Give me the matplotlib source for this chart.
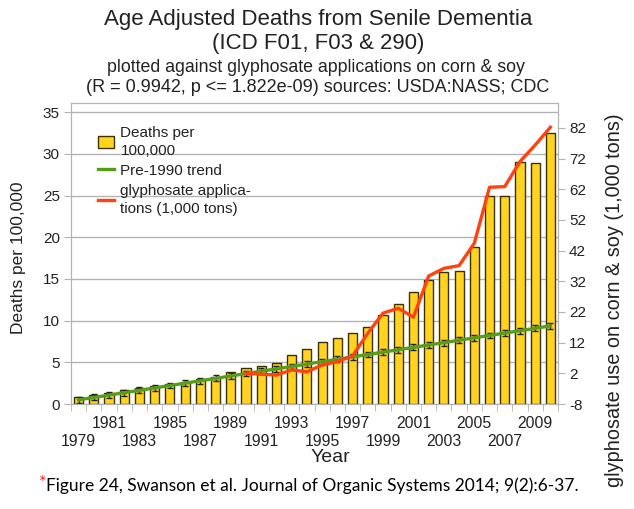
import matplotlib
matplotlib.use('Agg')
import matplotlib.pyplot as plt
import matplotlib.transforms as mtransforms
from matplotlib.patches import Patch
from matplotlib.lines import Line2D
import numpy as np

# data
years = list(range(1979, 2011))
deaths = [0.85, 1.05, 1.28, 1.62, 1.88, 2.15, 2.40, 2.68, 2.96, 3.20,
          3.84, 4.26, 4.60, 4.88, 5.88, 6.64, 7.40, 7.88, 8.55, 9.27,
          10.63, 11.95, 13.47, 14.87, 15.87, 15.99, 18.87, 24.94, 24.94, 28.98,
          28.86, 32.53]
trend = [0.50, 0.79, 1.07, 1.36, 1.64, 1.93, 2.22, 2.50, 2.79, 3.07,
         3.36, 3.65, 3.93, 4.22, 4.50, 4.79, 5.08, 5.36, 5.65, 5.93,
         6.22, 6.51, 6.79, 7.08, 7.36, 7.65, 7.94, 8.22, 8.51, 8.79,
         9.08, 9.37]
gly_years = list(range(1990, 2011))
glyphosate = [2.0, 1.7, 1.45, 3.1, 2.5, 4.7, 5.8, 7.65, 15.05, 21.6,
              23.2, 20.3, 33.7, 36.2, 37.1, 44.4, 62.65, 62.85, 71.0, 76.4,
              82.2]
left_ticks = [0, 5, 10, 15, 20, 25, 30, 35]
right_ticks = [-8, 2, 12, 22, 32, 42, 52, 62, 72, 82]
label_years = list(range(1979, 2010, 2))

plt.rcParams['font.family'] = ['Liberation Sans', 'DejaVu Sans']
plt.rcParams['axes.unicode_minus'] = False

BAR = '#ffd320'
GREEN = '#579d1c'
RED = '#ff420e'
GRID = '#b3b3b3'
TXT = '#222222'

fig = plt.figure(figsize=(6.34, 5.09), dpi=100)
ax = fig.add_axes([71 / 634, 1 - 404 / 509, (558 - 71) / 634, (404 - 103) / 509])

ax.bar(years, deaths, width=0.6, color=BAR, edgecolor='#3a3000', linewidth=1, zorder=2)
ax.errorbar(years, trend, yerr=0.35, color=GREEN, lw=2.4, ecolor='#222222',
            elinewidth=1, capsize=2.2, capthick=1, zorder=3)

ax.set_xlim(1978.5, 2010.5)
ax.set_ylim(0, 36.1)
ax.set_yticks(left_ticks)
ax.grid(axis='y', color=GRID, lw=1, zorder=0)
ax.set_axisbelow(True)
for s in ax.spines.values():
    s.set_color(GRID)

# year labels in two staggered rows
ax.set_xticks([])
ax.set_xticks(np.arange(1978.5, 2011, 1), minor=True)
ax.tick_params(axis='x', which='minor', length=5, color=GRID)
trans = mtransforms.blended_transform_factory(ax.transData, fig.transFigure)
for i, y in enumerate(label_years):
    row_y = 441 if i % 2 == 0 else 424
    ax.text(y, 1 - row_y / 509, str(y), transform=trans, ha='center', va='center',
            fontsize=11.3, color=TXT)
ax.tick_params(axis='y', length=5, color=GRID, labelsize=11, labelcolor=TXT, pad=3)

ax2 = ax.twinx()
ax2.plot(gly_years, glyphosate, color=RED, lw=2.4, zorder=4)
ax2.set_ylim(-8, 90.1)
ax2.set_yticks(right_ticks)
ax2.tick_params(axis='y', length=5, color=GRID, labelsize=11, labelcolor=TXT, pad=3)
for s in ax2.spines.values():
    s.set_color(GRID)

handles = [Patch(facecolor=BAR, edgecolor='#3a3000', lw=1),
           Line2D([], [], color=GREEN, lw=2.4),
           Line2D([], [], color=RED, lw=2.4)]
labels = ['Deaths per\n100,000', 'Pre-1990 trend', 'glyphosate applica-\ntions (1,000 tons)']
leg = ax2.legend(handles, labels, loc='upper left', bbox_to_anchor=(0.042, 0.945),
                 frameon=False, fontsize=11, handlelength=1.1, handleheight=0.8,
                 handletextpad=0.4, labelspacing=0.38, borderaxespad=0)
for t in leg.get_texts():
    t.set_color(TXT)
    t.set_linespacing(1.4)

fig.text(19 / 634, 1 - 258 / 509, 'Deaths per 100,000', rotation=90,
         ha='center', va='center', fontsize=12.5, color=TXT)
fig.text(615 / 634, 1 - 300 / 509, 'glyphosate use on corn & soy (1,000 tons)', rotation=90,
         ha='center', va='center', fontsize=14.3, color=TXT)
fig.text(330 / 634, 1 - 458 / 509, 'Year', ha='center', va='center', fontsize=14, color=TXT)

fig.text(318 / 634, 1 - 19 / 509, 'Age Adjusted Deaths from Senile Dementia',
         ha='center', va='center', fontsize=16, color=TXT)
fig.text(318 / 634, 1 - 44 / 509, '(ICD F01, F03 & 290)',
         ha='center', va='center', fontsize=16, color=TXT)
fig.text(316 / 634, 1 - 67 / 509, 'plotted against glyphosate applications on corn & soy',
         ha='center', va='center', fontsize=12.8, color=TXT)
fig.text(318 / 634, 1 - 88 / 509, '(R = 0.9942, p <= 1.822e-09) sources: USDA:NASS; CDC',
         ha='center', va='center', fontsize=13, color=TXT)

fig.text(39 / 634, 1 - 483 / 509, '*', ha='left', va='center', fontsize=13, color='#ff2020',
         family=['Lato', 'DejaVu Sans'])
fig.text(46 / 634, 1 - 486 / 509, 'Figure 24, Swanson et al. Journal of Organic Systems 2014; 9(2):6-37.',
         ha='left', va='center', fontsize=12.5, color='black', family=['Lato', 'DejaVu Sans'])

fig.savefig('out.png', dpi=100)
